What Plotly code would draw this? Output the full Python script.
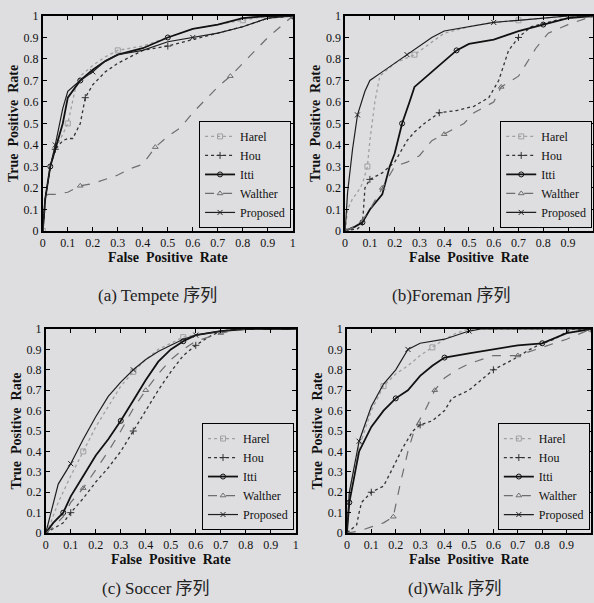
import plotly.graph_objects as go

# ---------------- data ----------------
series_names = ["Harel", "Hou", "Itti", "Walther", "Proposed"]
captions = ["(a) Tempete 序列", "(b)Foreman 序列", "(c) Soccer 序列", "(d)Walk 序列"]
tick_vals = [0, 0.1, 0.2, 0.3, 0.4, 0.5, 0.6, 0.7, 0.8, 0.9, 1]
tick_text = ["0", "0.1", "0.2", "0.3", "0.4", "0.5", "0.6", "0.7", "0.8", "0.9", "1"]

# (a) Tempete
a_harel_x = [0, 0.01, 0.03, 0.05, 0.08, 0.1, 0.13, 0.15, 0.2, 0.25, 0.3, 0.4, 0.5, 0.6, 0.7, 0.8, 0.9, 1]
a_harel_y = [0, 0.15, 0.3, 0.38, 0.45, 0.5, 0.66, 0.72, 0.77, 0.81, 0.84, 0.86, 0.9, 0.94, 0.96, 0.98, 1, 1]
a_hou_x = [0, 0.01, 0.03, 0.05, 0.08, 0.1, 0.12, 0.15, 0.17, 0.2, 0.25, 0.3, 0.4, 0.5, 0.6, 0.7, 0.8, 0.9, 1]
a_hou_y = [0, 0.15, 0.3, 0.38, 0.42, 0.43, 0.43, 0.5, 0.62, 0.68, 0.74, 0.78, 0.84, 0.86, 0.89, 0.92, 0.95, 0.99, 1]
a_itti_x = [0, 0.01, 0.03, 0.05, 0.08, 0.1, 0.13, 0.15, 0.2, 0.25, 0.3, 0.4, 0.5, 0.6, 0.7, 0.8, 0.9, 1]
a_itti_y = [0, 0.15, 0.3, 0.38, 0.5, 0.62, 0.67, 0.7, 0.75, 0.79, 0.82, 0.85, 0.9, 0.94, 0.96, 0.99, 1, 1]
a_walther_x = [0, 0.01, 0.02, 0.05, 0.1, 0.15, 0.2, 0.25, 0.3, 0.35, 0.4, 0.45, 0.5, 0.55, 0.6, 0.65, 0.7, 0.75, 0.8, 0.85, 0.9, 0.95, 1]
a_walther_y = [0, 0.12, 0.17, 0.17, 0.18, 0.21, 0.22, 0.24, 0.26, 0.29, 0.31, 0.39, 0.44, 0.48, 0.55, 0.61, 0.67, 0.72, 0.78, 0.84, 0.9, 0.95, 1]
a_prop_x = [0, 0.01, 0.03, 0.05, 0.08, 0.1, 0.13, 0.15, 0.2, 0.25, 0.3, 0.4, 0.5, 0.6, 0.7, 0.8, 0.9, 1]
a_prop_y = [0, 0.15, 0.3, 0.4, 0.57, 0.65, 0.68, 0.7, 0.74, 0.79, 0.82, 0.84, 0.88, 0.9, 0.92, 0.95, 0.99, 1]

# (b) Foreman
b_harel_x = [0, 0.01, 0.03, 0.05, 0.07, 0.09, 0.1, 0.12, 0.14, 0.2, 0.28, 0.35, 0.4, 0.5, 0.6, 0.7, 0.8, 0.9, 1]
b_harel_y = [0, 0.1, 0.15, 0.18, 0.22, 0.3, 0.42, 0.6, 0.72, 0.78, 0.82, 0.88, 0.92, 0.95, 0.97, 0.98, 0.99, 1, 1]
b_hou_x = [0, 0.05, 0.07, 0.08, 0.1, 0.15, 0.2, 0.25, 0.28, 0.32, 0.38, 0.45, 0.52, 0.58, 0.62, 0.66, 0.7, 0.75, 0.85, 0.95, 1]
b_hou_y = [0, 0.01, 0.03, 0.2, 0.24, 0.27, 0.32, 0.42, 0.46, 0.5, 0.55, 0.56, 0.58, 0.62, 0.7, 0.84, 0.9, 0.95, 0.98, 1, 1]
b_itti_x = [0, 0.04, 0.07, 0.1, 0.15, 0.18, 0.2, 0.23, 0.26, 0.28, 0.35, 0.4, 0.45, 0.5, 0.6, 0.65, 0.7, 0.8, 0.9, 1]
b_itti_y = [0, 0.02, 0.04, 0.1, 0.17, 0.3, 0.36, 0.5, 0.6, 0.67, 0.74, 0.79, 0.84, 0.87, 0.89, 0.91, 0.93, 0.96, 0.99, 1]
b_walther_x = [0, 0.04, 0.07, 0.1, 0.15, 0.2, 0.25, 0.3, 0.35, 0.4, 0.45, 0.48, 0.52, 0.6, 0.63, 0.7, 0.77, 0.82, 0.9, 1]
b_walther_y = [0, 0.02, 0.05, 0.1, 0.2, 0.3, 0.32, 0.35, 0.42, 0.45, 0.48, 0.5, 0.55, 0.6, 0.67, 0.72, 0.85, 0.92, 0.96, 1]
b_prop_x = [0, 0.01, 0.03, 0.05, 0.08, 0.1, 0.15, 0.2, 0.25, 0.3, 0.35, 0.4, 0.5, 0.6, 0.7, 0.8, 0.9, 1]
b_prop_y = [0, 0.18, 0.38, 0.54, 0.65, 0.7, 0.74, 0.78, 0.82, 0.86, 0.9, 0.93, 0.95, 0.97, 0.98, 0.99, 1, 1]

# (c) Soccer
c_harel_x = [0, 0.02, 0.05, 0.1, 0.15, 0.2, 0.25, 0.3, 0.35, 0.4, 0.45, 0.5, 0.55, 0.65, 0.75, 1]
c_harel_y = [0, 0.05, 0.15, 0.28, 0.4, 0.52, 0.62, 0.72, 0.79, 0.85, 0.9, 0.93, 0.96, 0.98, 1, 1]
c_hou_x = [0, 0.03, 0.07, 0.1, 0.15, 0.2, 0.25, 0.3, 0.35, 0.4, 0.45, 0.5, 0.55, 0.6, 0.65, 0.7, 0.8, 1]
c_hou_y = [0, 0.02, 0.05, 0.1, 0.17, 0.25, 0.32, 0.4, 0.5, 0.6, 0.7, 0.79, 0.87, 0.92, 0.96, 0.99, 1, 1]
c_itti_x = [0, 0.03, 0.07, 0.1, 0.15, 0.2, 0.25, 0.3, 0.35, 0.4, 0.45, 0.5, 0.55, 0.6, 0.7, 0.8, 1]
c_itti_y = [0, 0.05, 0.1, 0.18, 0.28, 0.38, 0.46, 0.55, 0.65, 0.75, 0.84, 0.9, 0.94, 0.97, 0.99, 1, 1]
c_walther_x = [0, 0.03, 0.07, 0.1, 0.15, 0.2, 0.25, 0.3, 0.35, 0.4, 0.45, 0.5, 0.55, 0.6, 0.7, 0.8, 1]
c_walther_y = [0, 0.03, 0.08, 0.15, 0.22, 0.31, 0.4, 0.5, 0.61, 0.7, 0.78, 0.85, 0.9, 0.94, 0.98, 1, 1]
c_prop_x = [0, 0.02, 0.05, 0.1, 0.15, 0.2, 0.25, 0.3, 0.35, 0.4, 0.45, 0.5, 0.55, 0.6, 0.7, 0.8, 1]
c_prop_y = [0, 0.1, 0.24, 0.34, 0.46, 0.57, 0.67, 0.74, 0.8, 0.85, 0.89, 0.92, 0.95, 0.97, 0.99, 1, 1]

# (d) Walk
d_harel_x = [0, 0.01, 0.05, 0.1, 0.15, 0.2, 0.25, 0.3, 0.35, 0.4, 0.45, 0.5, 1]
d_harel_y = [0, 0.2, 0.42, 0.6, 0.72, 0.78, 0.82, 0.87, 0.91, 0.95, 0.98, 1, 1]
d_hou_x = [0, 0.04, 0.05, 0.06, 0.1, 0.15, 0.18, 0.2, 0.23, 0.27, 0.3, 0.35, 0.4, 0.43, 0.5, 0.55, 0.6, 0.68, 0.75, 0.8, 0.85, 0.92, 1]
d_hou_y = [0, 0.04, 0.1, 0.15, 0.2, 0.23, 0.3, 0.35, 0.42, 0.5, 0.53, 0.55, 0.6, 0.66, 0.7, 0.75, 0.8, 0.85, 0.9, 0.93, 0.95, 1, 1]
d_itti_x = [0, 0.01, 0.05, 0.1, 0.15, 0.2, 0.25, 0.3, 0.35, 0.4, 0.5, 0.6, 0.7, 0.8, 0.9, 1]
d_itti_y = [0, 0.15, 0.4, 0.52, 0.6, 0.66, 0.7, 0.77, 0.82, 0.86, 0.88, 0.9, 0.92, 0.93, 0.98, 1]
d_walther_x = [0, 0.05, 0.1, 0.15, 0.19, 0.22, 0.25, 0.28, 0.32, 0.36, 0.4, 0.45, 0.5, 0.6, 0.7, 0.8, 0.9, 1]
d_walther_y = [0, 0.01, 0.03, 0.05, 0.08, 0.25, 0.4, 0.52, 0.6, 0.7, 0.76, 0.8, 0.83, 0.87, 0.87, 0.91, 0.95, 1]
d_prop_x = [0, 0.01, 0.05, 0.1, 0.15, 0.2, 0.25, 0.3, 0.4, 0.45, 0.5, 0.55, 1]
d_prop_y = [0, 0.2, 0.45, 0.62, 0.73, 0.8, 0.9, 0.93, 0.95, 0.97, 0.99, 1, 1]

panels = [
    [(a_harel_x, a_harel_y), (a_hou_x, a_hou_y), (a_itti_x, a_itti_y), (a_walther_x, a_walther_y), (a_prop_x, a_prop_y)],
    [(b_harel_x, b_harel_y), (b_hou_x, b_hou_y), (b_itti_x, b_itti_y), (b_walther_x, b_walther_y), (b_prop_x, b_prop_y)],
    [(c_harel_x, c_harel_y), (c_hou_x, c_hou_y), (c_itti_x, c_itti_y), (c_walther_x, c_walther_y), (c_prop_x, c_prop_y)],
    [(d_harel_x, d_harel_y), (d_hou_x, d_hou_y), (d_itti_x, d_itti_y), (d_walther_x, d_walther_y), (d_prop_x, d_prop_y)],
]

# ---------------- styles ----------------
styles = [
    dict(color="#a0a0a0", dash="dot", symbol="square-open", width=1.3),
    dict(color="#333333", dash="dot", symbol="cross-thin-open", width=1.3),
    dict(color="#111111", dash="solid", symbol="circle-open", width=1.8),
    dict(color="#6e6e6e", dash="dash", symbol="triangle-up-open", width=1.2),
    dict(color="#1e1e1e", dash="solid", symbol="x-thin-open", width=1.2),
]

bg = "#dedee0"
serif = "Liberation Serif, DejaVu Serif"
cap_font = "Liberation Serif, Noto Sans CJK SC"

xdomains = [[0.072, 0.493], [0.581, 0.998], [0.077, 0.498], [0.584, 0.995]]
ydomains = [[0.617, 0.9735], [0.617, 0.9735], [0.116, 0.4544], [0.116, 0.4544]]
leg_pos = [(0.490, 0.622), (0.997, 0.622), (0.495, 0.121), (0.993, 0.121)]
cap_pos = [(157, 295), (451, 295), (156, 588), (455, 588)]

W, H = 594, 603
fig = go.Figure()

for p in range(4):
    axn = "" if p == 0 else str(p + 1)
    legn = "legend" if p == 0 else "legend" + str(p + 1)
    for s in range(5):
        xs, ys = panels[p][s]
        st = styles[s]
        fig.add_trace(go.Scatter(
            x=xs, y=ys, name=series_names[s], mode="lines+markers",
            line=dict(color=st["color"], dash=st["dash"], width=st["width"]),
            marker=dict(symbol=st["symbol"], size=5, color=st["color"],
                        line=dict(color=st["color"], width=1), maxdisplayed=4),
            xaxis="x" + axn, yaxis="y" + axn, legend=legn, showlegend=True,
        ))
    axis_common = dict(
        range=[0, 1], tickvals=tick_vals, ticktext=tick_text, ticks="inside", ticklen=4,
        tickwidth=1, tickcolor="black", showline=True, linecolor="black", linewidth=1.6,
        mirror="ticks", showgrid=False, zeroline=False, automargin=False,
        tickfont=dict(family=serif, size=12, color="#111111"),
    )
    fig.update_layout(**{
        "xaxis" + axn: dict(axis_common, domain=xdomains[p], anchor="y" + axn,
                            title=dict(text="<b>False  Positive  Rate</b>",
                                       font=dict(family=serif, size=14, color="#111111"),
                                       standoff=2)),
        "yaxis" + axn: dict(axis_common, domain=ydomains[p], anchor="x" + axn,
                            title=dict(text="<b>True  Positive  Rate</b>",
                                       font=dict(family=serif, size=14, color="#111111"),
                                       standoff=2)),
        legn: dict(x=leg_pos[p][0], y=leg_pos[p][1], xanchor="right", yanchor="bottom",
                   xref="paper", yref="paper",
                   bgcolor=bg, bordercolor="black", borderwidth=1,
                   font=dict(family=serif, size=12, color="#111111"),
                   tracegroupgap=0, itemwidth=30),
    })
    fig.add_annotation(text=captions[p], x=cap_pos[p][0] / W, y=1 - cap_pos[p][1] / H,
                       xref="paper", yref="paper", showarrow=False,
                       xanchor="center", yanchor="middle",
                       font=dict(family=cap_font, size=17, color="#222222"))

fig.update_layout(width=W, height=H, margin=dict(l=0, r=0, t=0, b=0),
                  paper_bgcolor=bg, plot_bgcolor=bg)
fig.write_html("out.html", config={"displayModeBar": False},
               post_script="document.body.style.margin='0';document.body.style.overflow='hidden';")
